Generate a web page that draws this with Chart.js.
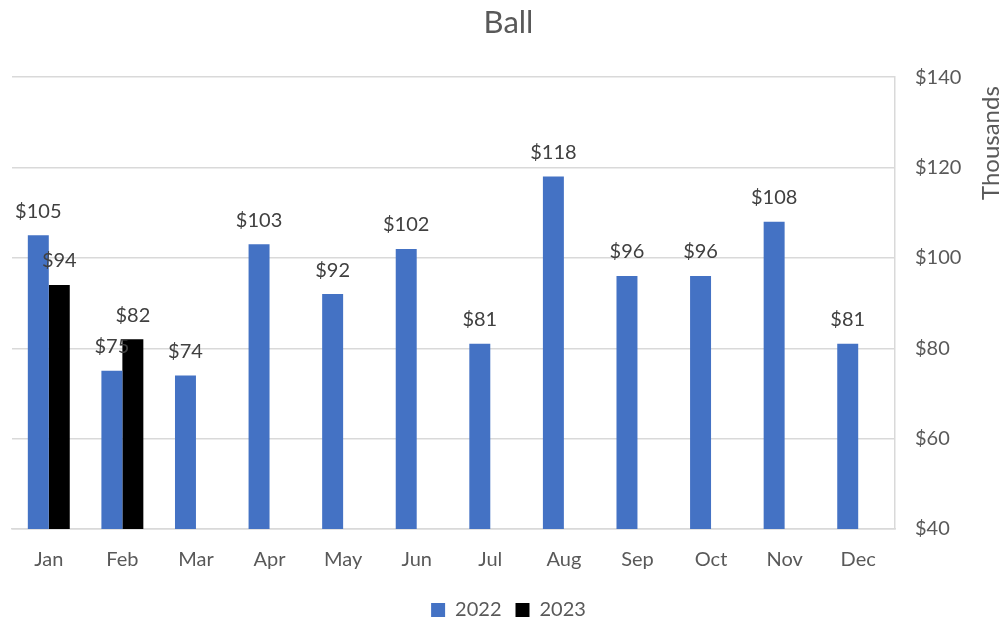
<!DOCTYPE html>
<html>
<head>
<meta charset="utf-8">
<script src="https://cdn.jsdelivr.net/npm/chart.js@4"></script>
<style>
  body { margin: 0; background: #fff; }
  #wrap { width: 1005px; height: 624px; }
</style>
</head>
<body>
<div id="wrap"><canvas id="myChart"></canvas></div>
<script>
// values in thousands of dollars
const months = ['Jan', 'Feb', 'Mar', 'Apr', 'May', 'Jun', 'Jul', 'Aug', 'Sep', 'Oct', 'Nov', 'Dec'];
const ventas2022 = [105, 75, 74, 103, 92, 102, 81, 118, 96, 96, 108, 81];
const ventas2023 = [94, 82, null, null, null, null, null, null, null, null, null, null];
const yTicks = [40, 60, 80, 100, 120, 140];

const fonte = 'Lato, "Noto Sans", sans-serif';

const rotulos = {
    id: 'rotulos',
    afterDatasetsDraw(chart) {
        const ctx = chart.ctx;
        ctx.save();
        ctx.font = `20px ${fonte}`;
        ctx.fillStyle = '#404040';
        ctx.textAlign = 'center';
        ctx.textBaseline = 'middle';
        chart.data.datasets.forEach(function(ds, i) {
            const meta = chart.getDatasetMeta(i);
            meta.data.forEach(function(bar, j) {
                const v = ds.data[j];
                if (v == null) return;
                ctx.fillText(`$${v}`, bar.x, bar.y - 24);
            });
        });
        ctx.restore();
    }
};

const unidade = {
    id: 'unidade',
    afterDraw(chart) {
        const ctx = chart.ctx;
        const y = chart.scales.y;
        ctx.save();
        ctx.translate(991, y.top + 9);
        ctx.rotate(-Math.PI / 2);
        ctx.font = `24px ${fonte}`;
        ctx.fillStyle = '#595959';
        ctx.textAlign = 'right';
        ctx.textBaseline = 'middle';
        ctx.fillText('Thousands', 0, 0);
        ctx.restore();
    }
};

new Chart(document.getElementById('myChart'), {
    type: 'bar',
    data: {
        labels: months,
        datasets: [{
            label: '2022',
            data: ventas2022,
            backgroundColor: '#4472C4'
        }, {
            label: '2023',
            data: ventas2023,
            backgroundColor: '#000000'
        }]
    },
    options: {
        responsive: true,
        maintainAspectRatio: false,
        animation: false,
        categoryPercentage: 0.57,
        barPercentage: 1.0,
        layout: { padding: { left: 12, right: 0, top: 0, bottom: -6 } },
        plugins: {
            title: {
                display: true,
                text: 'Ball',
                color: '#595959',
                font: { family: fonte, size: 31, weight: 'normal' },
                padding: { top: 4, bottom: 36 }
            },
            legend: {
                position: 'bottom',
                labels: {
                    color: '#595959',
                    font: { family: fonte, size: 20 },
                    boxWidth: 14,
                    boxHeight: 14,
                    padding: 14
                }
            },
            tooltip: { enabled: false }
        },
        scales: {
            x: {
                grid: { display: false },
                border: { display: true, color: '#d9d9d9', width: 1.5 },
                afterFit(scale) {
                    scale.height += 3;
                },
                ticks: {
                    color: '#595959',
                    font: { family: fonte, size: 20 },
                    padding: 11
                }
            },
            y: {
                position: 'right',
                min: 40,
                max: 140,
                afterBuildTicks(scale) {
                    scale.ticks = yTicks.map(v => ({ value: v }));
                },
                afterFit(scale) {
                    scale.width = 110;
                },
                grid: { color: '#d9d9d9', lineWidth: 1.5, drawTicks: false },
                border: { display: true, color: '#d9d9d9', width: 1.5 },
                ticks: {
                    color: '#595959',
                    font: { family: fonte, size: 20 },
                    padding: 20,
                    callback: v => `$${v}`
                }
            }
        }
    },
    plugins: [rotulos, unidade]
});
</script>
</body>
</html>
